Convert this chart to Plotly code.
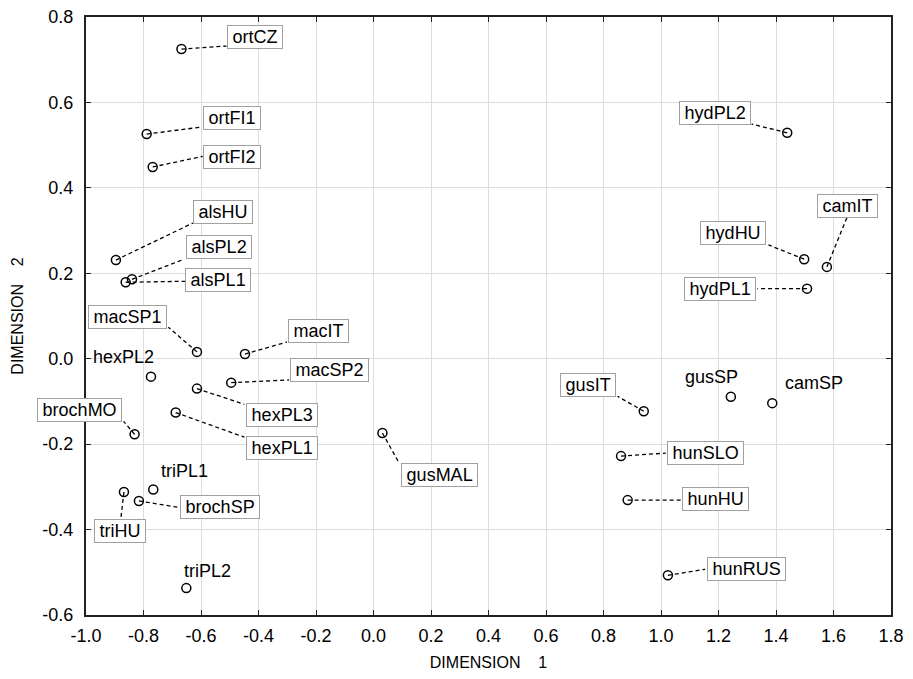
import plotly.graph_objects as go

# ---- data ----
names = ["ortCZ", "ortFI1", "ortFI2", "alsHU", "alsPL2", "alsPL1", "macSP1", "macIT",
         "macSP2", "hexPL3", "hexPL1", "hexPL2", "brochMO", "triPL1", "brochSP", "triHU",
         "triPL2", "gusMAL", "hydPL2", "hydHU", "camIT", "hydPL1", "gusIT", "gusSP",
         "camSP", "hunSLO", "hunHU", "hunRUS"]
dim1 = [-0.668, -0.789, -0.768, -0.896, -0.840, -0.862, -0.614, -0.447,
        -0.495, -0.614, -0.688, -0.774, -0.831, -0.766, -0.816, -0.868,
        -0.651, 0.031, 1.439, 1.498, 1.577, 1.508, 0.940, 1.243,
        1.387, 0.861, 0.884, 1.024]
dim2 = [0.725, 0.526, 0.449, 0.231, 0.186, 0.179, 0.016, 0.011,
        -0.056, -0.070, -0.126, -0.042, -0.177, -0.306, -0.333, -0.312,
        -0.537, -0.174, 0.529, 0.233, 0.215, 0.164, -0.123, -0.089,
        -0.104, -0.228, -0.331, -0.507]
x_ticks = [-1.0, -0.8, -0.6, -0.4, -0.2, 0.0, 0.2, 0.4, 0.6, 0.8, 1.0, 1.2, 1.4, 1.6, 1.8]
y_ticks = [-0.6, -0.4, -0.2, 0.0, 0.2, 0.4, 0.6, 0.8]

# ---- label placement (pixel offsets from the point; screen y downward) ----
label_dx = [73.5, 85, 79.5, 107, 86.7, 92.5, -69, 73.5,
            98.5, 84.8, 106.7, -27.3, -55, 30.8, 80.7, -3.8,
            21, 57.2, -72.2, -70.7, 20.3, -86.7, -55.3, -19.5,
            41.3, 84.7, 87.5, 78.3]
label_dy = [-12.5, -16, -10, -48, -31.8, -2.3, -35, -23.5,
            -12.7, 26.7, 35.7, -19.7, -24, -18.3, 6.3, 39.5,
            -17, 41.5, -19.7, -26.3, -61, 0.3, -26.5, -19.7,
            -20, -3.5, -1, -6]
lead_dx = [45, 55, 50, 77, 52, 61, -28.7, 42,
           58, 47.3, 68.7, None, -11, None, 38.7, -3.3,
           None, 16.7, -35.7, -35.7, 20.3, -49.7, -26.3, None,
           None, 44.7, 53, 37.3]
lead_dy = [-3, -7, -10.5, -37, -20, -1, -24.7, -12,
           -2.7, 15.7, 24.7, None, -13, None, 6.3, 28,
           None, 30, -8.7, -14.3, -50, 0, -15, None,
           None, -3, 0, -6]

FONT = "Liberation Sans, Arial, sans-serif"

fig = go.Figure()

shapes = []
for x, y, ex, ey in zip(dim1, dim2, lead_dx, lead_dy):
    if ex is None:
        continue
    shapes.append(dict(type="line", xref="x", yref="y", xsizemode="pixel", ysizemode="pixel",
                       xanchor=x, yanchor=y, x0=0, y0=0, x1=ex, y1=-ey,
                       line=dict(color="black", width=1.3, dash="4px,3px"), layer="above"))

fig.add_trace(go.Scatter(x=dim1, y=dim2, mode="markers",
                         marker=dict(symbol="circle-open", size=9, color="black",
                                     line=dict(width=1.5, color="black")),
                         hoverinfo="text", text=names, showlegend=False))

annotations = []
for n, x, y, tx, ty, ex in zip(names, dim1, dim2, label_dx, label_dy, lead_dx):
    boxed = ex is not None
    annotations.append(dict(x=x, y=y, xref="x", yref="y", showarrow=False,
                            text=("\u2009" + n + "\u2009") if boxed else n,
                            xshift=tx, yshift=-ty, xanchor="center", yanchor="middle",
                            font=dict(family=FONT, size=18, color="black"),
                            bgcolor="white" if boxed else None,
                            bordercolor="#a0a0a0" if boxed else None,
                            borderwidth=1 if boxed else 0, borderpad=1))

fig.update_layout(
    width=897, height=663,
    margin=dict(l=78, r=14, t=9, b=56),
    paper_bgcolor="white", plot_bgcolor="white",
    font=dict(family=FONT, size=18, color="black"),
    shapes=shapes, annotations=annotations,
    xaxis=dict(range=[-1.0, 1.8], tickvals=x_ticks, ticktext=[f"{v:.1f}" for v in x_ticks],
               showgrid=True, gridcolor="#dcdcdc", gridwidth=1, zeroline=False,
               showline=True, linecolor="#222", linewidth=2, mirror="ticks",
               ticks="inside", ticklen=5, tickcolor="#222", automargin=False,
               ticklabelstandoff=3, ticklabeloverflow="allow",
               title=dict(text="DIMENSION\u00a0\u00a0\u00a0\u00a01", font=dict(size=16))),
    yaxis=dict(range=[-0.6, 0.8], tickvals=y_ticks, ticktext=[f"{v:.1f}" for v in y_ticks],
               showgrid=True, gridcolor="#dcdcdc", gridwidth=1, zeroline=False,
               showline=True, linecolor="#222", linewidth=2, mirror="ticks",
               ticks="inside", ticklen=5, tickcolor="#222", automargin=False,
               ticklabelstandoff=7, ticklabeloverflow="allow",
               title=dict(text="DIMENSION\u00a0\u00a0\u00a0\u00a02", font=dict(size=16))),
)

fig.write_html("out.html")
